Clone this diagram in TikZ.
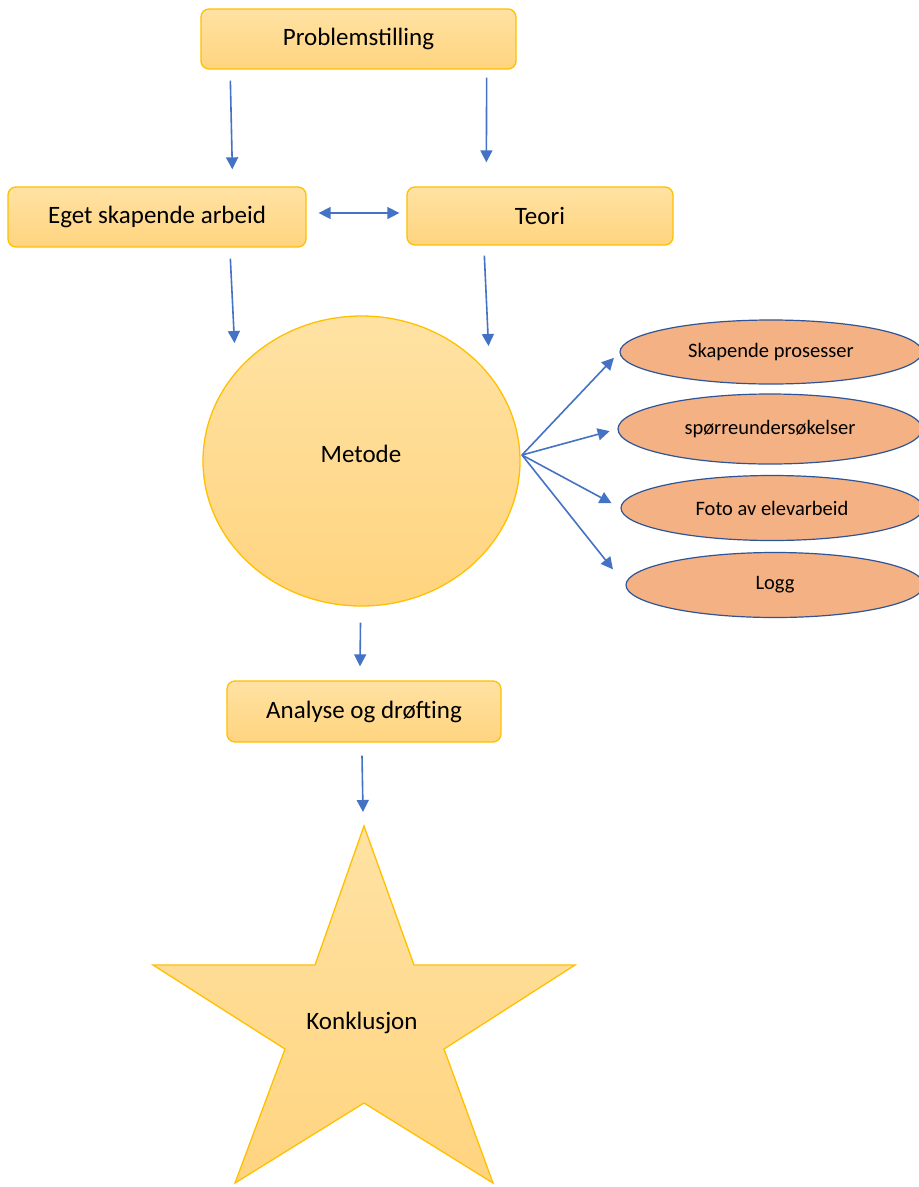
\documentclass[tikz,border=0pt]{standalone}
\usepackage{fontspec}
\setmainfont{Carlito}
\usetikzlibrary{arrows.meta,shapes.geometric,calc}
\definecolor{gold}{HTML}{FFC000}
\definecolor{boxtop}{HTML}{FFE2A3}
\definecolor{boxbot}{HTML}{FFD47F}
\definecolor{salmon}{HTML}{F4B183}
\definecolor{ovalline}{HTML}{2F5597}
\definecolor{arrowblue}{HTML}{4472C4}
\tikzset{
  stepbox/.style={draw=gold, line width=1.3pt, rounded corners=8pt,
    top color=boxtop, bottom color=boxbot, inner sep=0pt,
    font=\fontsize{25}{30}\selectfont},
  bigoval/.style={ellipse, draw=gold, line width=1.3pt,
    top color=boxtop, bottom color=boxbot, inner sep=0pt},
  smalloval/.style={ellipse, draw=ovalline, line width=1.2pt, fill=salmon,
    inner sep=0pt, font=\fontsize{20.5}{24}\selectfont},
  conn/.style={draw=arrowblue, line width=1.6pt,
    -{Triangle[length=12pt,width=12pt]}},
  dconn/.style={draw=arrowblue, line width=1.6pt,
    {Triangle[length=12pt,width=12pt]}-{Triangle[length=12pt,width=12pt]}},
  lbl/.style={font=\fontsize{25}{30}\selectfont, inner sep=0pt}
}
\begin{document}
\begin{tikzpicture}[x=1pt,y=-1pt]
\useasboundingbox (0,0) rectangle (919,1187);
\fill[white] (0,0) rectangle (919,1187);

% rectangles
\node[stepbox, minimum width=315pt, minimum height=60pt] (prob) at (358.5,39) {Problemstilling};
\node[stepbox, minimum width=298pt, minimum height=60pt] (eget) at (157,217) {Eget skapende arbeid};
\node[stepbox, minimum width=266pt, minimum height=58pt] (teori) at (540,216) {Teori};
\node[stepbox, minimum width=274pt, minimum height=61pt] (ana) at (364,711.5) {Analyse og drøfting};

% Metode
\node[bigoval, minimum width=317pt, minimum height=290pt] (met) at (361.5,461) {};
\node[lbl] (mettxt) at (361,454) {Metode};

% small ovals
\node[smalloval, minimum width=302pt, minimum height=64pt] (sk) at (771,352) {Skapende prosesser};
\node[smalloval, minimum width=304pt, minimum height=70pt] (sp) at (770,429) {spørreundersøkelser};
\node[smalloval, minimum width=302pt, minimum height=65pt] (foto) at (772,508) {Foto av elevarbeid};
\node[smalloval, minimum width=298pt, minimum height=65pt] (logg) at (775,585) {Logg};

% star
\coordinate (startop) at (364,826);
\path[draw=gold, line width=1.3pt, line join=miter, top color=boxtop, bottom color=boxbot]
  (startop) -- (414,965) -- (575,965) -- (444,1049) -- (493,1183) -- (364,1103)
  -- (235,1183) -- (285,1049) -- (153,965) -- (315,965) -- cycle;
\node[lbl] (konk) at (362,1023) {Konklusjon};

% connectors
\draw[conn] ($(prob.south west)+(30,11)$) -- ($(eget.north west)+(225,-17)$);
\draw[conn] ($(prob.south east)+(-30,8)$) -- ($(teori.north west)+(80,-24)$);
\draw[dconn] ($(eget.east)+(12,-4)$) -- ($(teori.west)+(-7,-3)$);
\draw[conn] ($(eget.south west)+(223,11)$) -- ($(met.center)+(-127,-118)$);
\draw[conn] ($(teori.south west)+(78,10)$) -- ($(met.center)+(127,-115)$);
\draw[conn] ($(met.south)+(-1,16)$) -- ($(ana.north)+(-4,-14)$);
\draw[conn] ($(ana.south)+(-2,13)$) -- ($(startop)+(-1,-14)$);

\coordinate (hub) at (522,455);
\draw[conn, shorten >=8pt] (hub) -- (sk.west);
\draw[conn, shorten >=8pt] (hub) -- (sp.west);
\draw[conn, shorten >=10pt] (hub) -- (foto.west);
\draw[conn, shorten >=20pt] (hub) -- (logg.west);
\end{tikzpicture}
\end{document}
